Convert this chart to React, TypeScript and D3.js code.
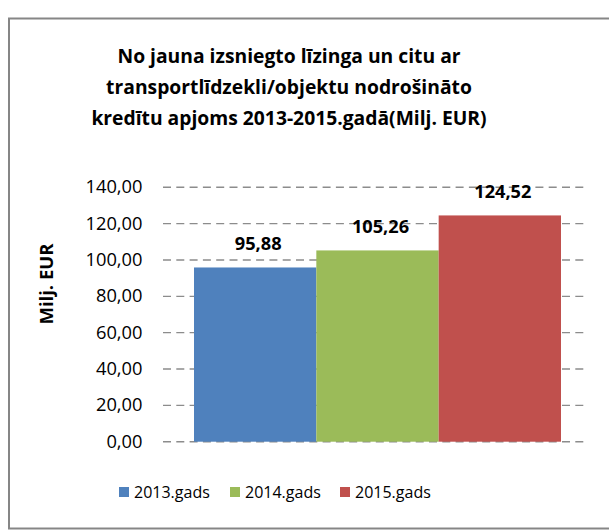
import React from "react";
import * as d3 from "d3";

const titleLines = [
  "No jauna izsniegto līzinga un citu ar",
  "transportlīdzekli/objektu nodrošināto",
  "kredītu apjoms 2013-2015.gadā(Milj. EUR)",
];
const seriesNames = ["2013.gads", "2014.gads", "2015.gads"];
const seriesValues = [95.88, 105.26, 124.52];
const seriesColors = ["#4F81BD", "#9BBB59", "#C0504D"];
const yTicks = [0, 20, 40, 60, 80, 100, 120, 140];
const yAxisTitle = "Milj. EUR";

const fmt = (v: number) => v.toFixed(2).replace(".", ",");

export default function App() {
  const W = 609;
  const H = 531;
  const font = "'Open Sans', 'DejaVu Sans', sans-serif";
  const y = d3.scaleLinear().domain([0, 140]).range([441.7, 187.3]);
  const x = d3.scaleBand<string>().domain(seriesNames).range([194, 561]).padding(0);
  const gridX0 = 163;
  const gridX1 = 588;
  const legendX = [119, 230, 340];

  return (
    <svg
      width={W}
      height={H}
      style={{ position: "absolute", left: 0, top: 0 }}
      fontFamily={font}
    >
      <rect x={0} y={0} width={W} height={H} fill="#fff" />
      <rect x={9} y={18.5} width={620} height={510} fill="#fff" stroke="#868686" strokeWidth={2} />
      {titleLines.map((t, i) => (
        <text
          key={i}
          x={289}
          y={63 + i * 30.8}
          textAnchor="middle"
          fontWeight="bold"
          fontSize={19.3}
          fill="#000"
        >
          {t}
        </text>
      ))}
      {yTicks.map((t) => (
        <g key={t}>
          <line
            x1={gridX0}
            x2={gridX1}
            y1={y(t)}
            y2={y(t)}
            stroke="#8c8c8c"
            strokeWidth={1.4}
            strokeDasharray="8,5.3"
          />
          <text x={142.5} y={y(t) + 6} textAnchor="end" fontSize={18.3} fill="#000">
            {fmt(t)}
          </text>
        </g>
      ))}
      {seriesNames.map((s, i) => (
        <rect
          key={s}
          x={x(s)}
          y={y(seriesValues[i])}
          width={x.bandwidth()}
          height={y(0) - y(seriesValues[i])}
          fill={seriesColors[i]}
        />
      ))}
      {seriesNames.map((s, i) => (
        <text
          key={s}
          x={(x(s) as number) + x.bandwidth() / 2 + 3}
          y={y(seriesValues[i]) - 17}
          textAnchor="middle"
          fontWeight="bold"
          fontSize={18.2}
          fill="#000"
        >
          {fmt(seriesValues[i])}
        </text>
      ))}
      <text
        transform={`translate(53,284) rotate(-90)`}
        textAnchor="middle"
        fontWeight="bold"
        fontSize={18.5}
        fill="#000"
      >
        {yAxisTitle}
      </text>
      {seriesNames.map((s, i) => (
        <g key={s}>
          <rect x={legendX[i]} y={487} width={10} height={10} fill={seriesColors[i]} />
          <text x={legendX[i] + 15} y={498} fontSize={16} fill="#000">
            {s}
          </text>
        </g>
      ))}
    </svg>
  );
}
